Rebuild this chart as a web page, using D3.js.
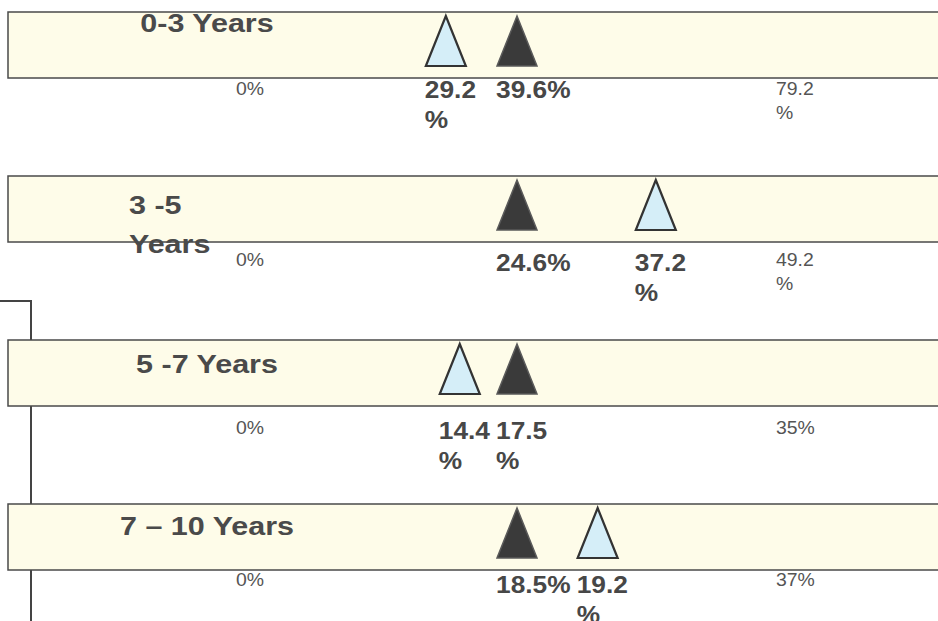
<!DOCTYPE html>
<html>
<head>
<meta charset="utf-8">
<script src="https://cdn.jsdelivr.net/npm/d3@7"></script>
<style>
  html, body { margin: 0; padding: 0; background: #ffffff; }
  svg { display: block; }
  .title { font-family: "Liberation Sans", Arial, sans-serif; font-weight: bold; font-size: 25px; fill: #4a4a4a; }
  .val { font-family: "Liberation Sans", Arial, sans-serif; font-weight: bold; font-size: 23.5px; fill: #474747; }
  .tick { font-family: "Liberation Sans", Arial, sans-serif; font-size: 18.5px; fill: #555555; }
</style>
</head>
<body>
<svg id="chart" width="938" height="621"></svg>
<script>
// Age groups, one panel each (wrapped where the text box breaks the line)
const categoryLines = [["0-3 Years"], ["3 -5", "Years"], ["5 -7 Years"], ["7 – 10 Years"]];
// Light blue marker values (%)
const blueValues = [29.2, 37.2, 14.4, 19.2];
// Dark marker values (%)
const blackValues = [39.6, 24.6, 17.5, 18.5];
// Axis end value of each panel (%)
const maxValues = [79.2, 49.2, 35, 37];
// Whether each label's "%" falls onto a second line
const blueWrap = [true, true, true, true];
const blackWrap = [false, false, true, false];
const maxWrap = [true, true, false, false];

// Per-panel text offsets
const titleDy = [20, 38, 33, 31];
const valueDy = [20, 29, 33, 23];
const tickDy = [17, 24, 28, 16];

const svg = d3.select("#chart");

const panelTop0 = 12, panelStep = 164, panelH = 66;
const panelLeft = 8;
const triW = 40, triH = 50, triTopPad = 4;
const titleSx = 1.22, valSx = 1.12, tickSx = 1.05;
const labelGap = 6;

// Bracket line on the left
svg.append("path")
  .attr("d", "M0,301H31V621")
  .attr("fill", "none")
  .attr("stroke", "#444")
  .attr("stroke-width", 2);

function addText(g, cls, x, y, lines, lineGap, sx, anchor) {
  const t = g.append("text")
    .attr("class", cls)
    .attr("text-anchor", anchor || "start")
    .attr("transform", `translate(${x},${y}) scale(${sx},1)`);
  lines.forEach((ln, i) => {
    t.append("tspan").attr("x", 0).attr("y", i * lineGap).text(ln);
  });
  return t;
}

// Width of the widest line of a value label, as drawn
function labelWidth(lines) {
  const t = svg.append("text").attr("class", "val");
  let w = 0;
  lines.forEach(ln => {
    t.text(ln);
    w = Math.max(w, t.node().getComputedTextLength());
  });
  t.remove();
  return w * valSx;
}

const fmt = v => `${v}%`;
const split = (v, wrap) => wrap ? [String(v), "%"] : [fmt(v)];

categoryLines.forEach((lines, i) => {
  const top = panelTop0 + i * panelStep;
  const bottom = top + panelH;
  const g = svg.append("g");

  const x = d3.scaleLinear().domain([0, maxValues[i]]).range([246, 788]);

  g.append("rect")
    .attr("x", panelLeft).attr("y", top)
    .attr("width", 960).attr("height", panelH)
    .attr("fill", "#fefce9")
    .attr("stroke", "#4a4a4a")
    .attr("stroke-width", 1.5);

  // Category label
  if (lines.length > 1) {
    addText(g, "title", 129, top + titleDy[i], lines, 39, titleSx, "start");
  } else {
    addText(g, "title", 207, top + titleDy[i], lines, 39, titleSx, "middle");
  }

  const blueLines = split(blueValues[i], blueWrap[i]);
  const blackLines = split(blackValues[i], blackWrap[i]);

  // Marker positions, nudged apart when markers or their labels would collide
  let xb = x(blackValues[i]);
  let xl = x(blueValues[i]);
  const blueRight = blueValues[i] >= blackValues[i];
  const leftLines = blueRight ? blackLines : blueLines;
  const minSep = Math.max(triW + 10, labelWidth(leftLines) + labelGap);
  if (Math.abs(xl - xb) < minSep) {
    xl = blueRight ? xb + minSep : xb - minSep;
  }

  const tri = cx => {
    const y0 = top + triTopPad, y1 = y0 + triH;
    return `M${cx},${y0}L${cx + triW / 2},${y1}L${cx - triW / 2},${y1}Z`;
  };

  g.append("path").attr("d", tri(xl))
    .attr("fill", "#d5eef8").attr("stroke", "#333").attr("stroke-width", 2.2);
  g.append("path").attr("d", tri(xb))
    .attr("fill", "#3a3a3a").attr("stroke", "#5a5a5a").attr("stroke-width", 1.5);

  // Marker value labels
  addText(g, "val", xl - 21, bottom + valueDy[i], blueLines, 30, valSx);
  addText(g, "val", xb - 21, bottom + valueDy[i], blackLines, 30, valSx);

  // Axis end labels
  addText(g, "tick", x(0) - 10, bottom + tickDy[i], ["0%"], 24, tickSx);
  addText(g, "tick", x(maxValues[i]) - 12, bottom + tickDy[i], split(maxValues[i], maxWrap[i]), 24, tickSx);
});
</script>
</body>
</html>
